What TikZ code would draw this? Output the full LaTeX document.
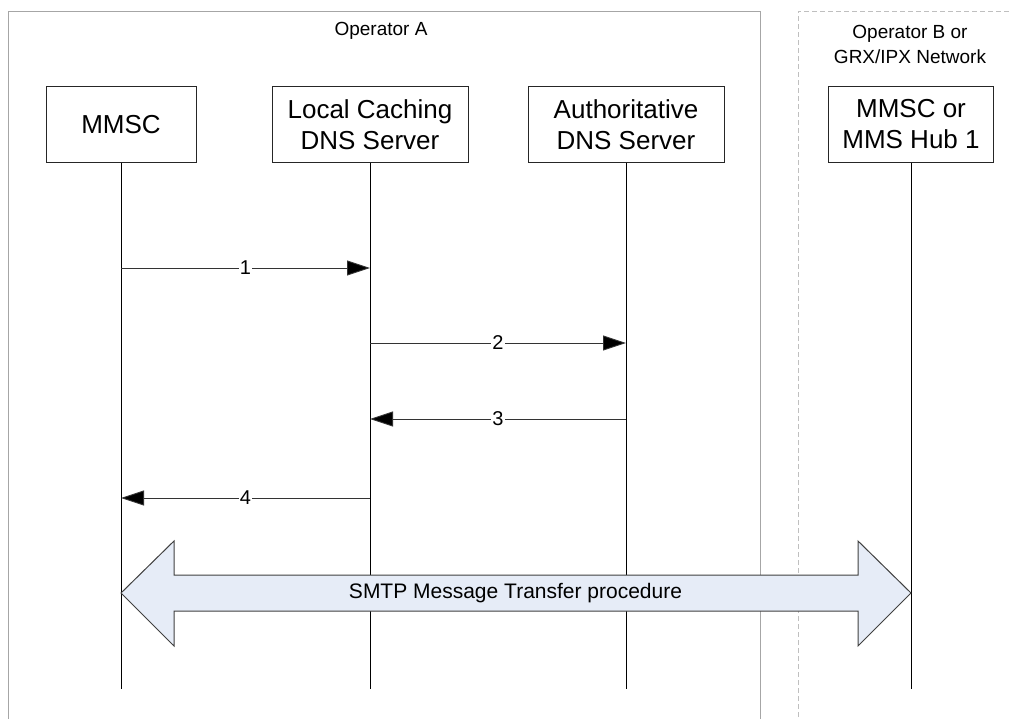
\documentclass[tikz,border=0pt]{standalone}
\usepackage{fontspec}
\setmainfont{Liberation Sans}
\usetikzlibrary{arrows.meta}
\definecolor{frameA}{HTML}{A6A6A6}
\definecolor{frameB}{HTML}{BFBFBF}
\definecolor{bigfill}{HTML}{E6ECF7}
\definecolor{bigdraw}{HTML}{404040}
\begin{document}
\begin{tikzpicture}[x=1pt,y=-1pt,
  entity/.style={draw=black!85,line width=1pt,fill=white,minimum width=196pt,minimum height=76pt,
    inner sep=0pt,align=center,font=\fontsize{26}{31}\selectfont},
  lifeline/.style={draw=black,line width=0.9pt},
  msg/.style={draw=black!80,line width=0.9pt,-{Triangle[length=23pt,width=15pt,fill=black]}},
  msglabel/.style={fill=white,inner sep=1pt,font=\fontsize{20}{22}\selectfont},
  zone/.style={font=\fontsize{19}{25}\selectfont,align=center}]
\useasboundingbox (0,0) rectangle (1009,719);
% operator zones
\draw[frameA,line width=0.9pt] (8,725) -- (8,11) -- (760,11) -- (760,725);
\draw[frameB,line width=0.9pt,dash pattern=on 5pt off 3pt] (798,725) -- (798,11) -- (1012,11);
\node[zone] (opA) at (381,31) {Operator A};
\node[zone] (opB) at (910,44) {Operator B or\\GRX/IPX Network};
% entities
\node[entity,minimum width=150pt] (mmsc) at (121,124.5) {MMSC};
\node[entity] (ldns) at (370,124.5) {Local Caching\\DNS Server};
\node[entity] (adns) at (626,124.5) {Authoritative\\DNS Server};
\node[entity,minimum width=165pt] (hub) at (911,124.5) {MMSC or\\MMS Hub 1};
% lifeline ends
\coordinate (mmscE) at (121,689);
\coordinate (ldnsE) at (370,689);
\coordinate (adnsE) at (626,689);
\coordinate (hubE) at (911,689);
\draw[lifeline] (mmsc.south) -- (mmscE);
\draw[lifeline] (ldns.south) -- (ldnsE);
\draw[lifeline] (adns.south) -- (adnsE);
\draw[lifeline] (hub.south) -- (hubE);
% message points
\coordinate (m1a) at (121,268); \coordinate (m1b) at (370,268);
\coordinate (m2a) at (370,343); \coordinate (m2b) at (626,343);
\coordinate (m3a) at (626,419); \coordinate (m3b) at (370,419);
\coordinate (m4a) at (370,498); \coordinate (m4b) at (121,498);
\draw[msg] (m1a) -- node[msglabel] (l1) {1} (m1b);
\draw[msg] (m2a) -- node[msglabel] (l2) {2} (m2b);
\draw[msg] (m3a) -- node[msglabel] (l3) {3} (m3b);
\draw[msg] (m4a) -- node[msglabel] (l4) {4} (m4b);
% big double arrow
\draw[bigdraw,fill=bigfill,line width=1pt,line join=miter]
  (121,593) -- (174,541) -- (174,575) -- (858,575) -- (858,541) -- (911,593)
  -- (858,646) -- (858,611) -- (174,611) -- (174,646) -- cycle;
\node[font=\fontsize{21}{24}\selectfont] (smtp) at (515.5,593) {SMTP Message Transfer procedure};
\end{tikzpicture}
\end{document}
